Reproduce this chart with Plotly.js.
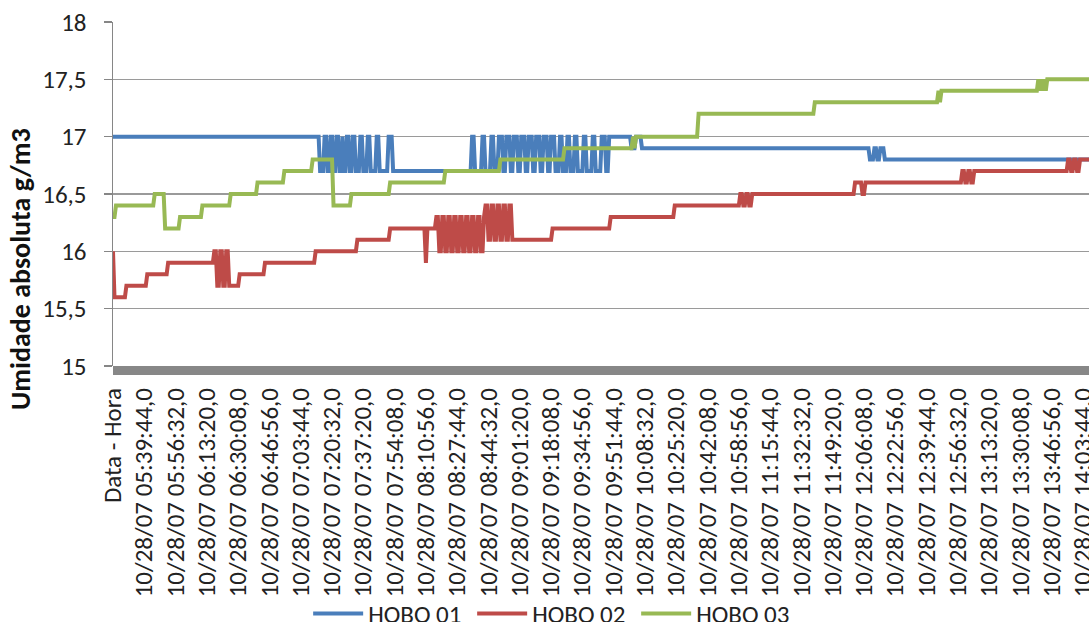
<!DOCTYPE html>
<html>
<head>
<meta charset="utf-8">
<script src="https://cdn.plot.ly/plotly-3.0.1.min.js"></script>
<style>
  html, body { margin: 0; padding: 0; background: #ffffff; width: 1089px; height: 622px; overflow: hidden; }
  #chart { width: 1089px; height: 640px; }
</style>
</head>
<body>
<div id="chart"></div>
<script>
// Category tick labels (one label every 21 readings)
const tickLabels = [
  "Data - Hora",
  "10/28/07 05:39:44,0", "10/28/07 05:56:32,0", "10/28/07 06:13:20,0", "10/28/07 06:30:08,0",
  "10/28/07 06:46:56,0", "10/28/07 07:03:44,0", "10/28/07 07:20:32,0", "10/28/07 07:37:20,0",
  "10/28/07 07:54:08,0", "10/28/07 08:10:56,0", "10/28/07 08:27:44,0", "10/28/07 08:44:32,0",
  "10/28/07 09:01:20,0", "10/28/07 09:18:08,0", "10/28/07 09:34:56,0", "10/28/07 09:51:44,0",
  "10/28/07 10:08:32,0", "10/28/07 10:25:20,0", "10/28/07 10:42:08,0", "10/28/07 10:58:56,0",
  "10/28/07 11:15:44,0", "10/28/07 11:32:32,0", "10/28/07 11:49:20,0", "10/28/07 12:06:08,0",
  "10/28/07 12:22:56,0", "10/28/07 12:39:44,0", "10/28/07 12:56:32,0", "10/28/07 13:13:20,0",
  "10/28/07 13:30:08,0", "10/28/07 13:46:56,0", "10/28/07 14:03:44,0"
];
const readingsPerLabel = 21;

const seriesNames = ["HOBO 01", "HOBO 02", "HOBO 03"];

// Readings as runs: [value g/m3, number of consecutive readings]
const hobo01Runs = [
  [17.0,139],
  [16.7,3],[17.0,2],[16.7,2],[17.0,2],[16.7,2],[17.0,2],[16.7,2],[17.0,1],[16.7,2],[17.0,2],
  [16.7,2],[17.0,2],[16.7,3],[17.0,2],[16.7,3],[17.0,2],[16.7,4],[17.0,2],[16.7,6],[17.0,3],
  [16.7,53],
  [17.0,2],[16.7,5],[17.0,2],[16.7,4],[17.0,2],[16.7,3],[17.0,3],[16.7,2],[17.0,3],[16.7,2],
  [17.0,3],[16.7,2],[17.0,3],[16.7,2],[17.0,3],[16.7,2],[17.0,3],[16.7,2],[17.0,3],[16.7,2],
  [17.0,3],[16.7,3],[17.0,2],[16.7,3],[17.0,2],[16.7,3],[17.0,2],[16.7,4],[17.0,2],[16.7,4],
  [17.0,2],[16.7,4],[17.0,3],[16.7,2],
  [17.0,15],[16.9,3],[17.0,4],
  [16.9,153],
  [16.8,3],[16.9,2],[16.8,2],[16.9,3],
  [16.8,138]
];

const hobo02Runs = [
  [16.0,1],[15.6,8],[15.7,14],[15.8,14],[15.9,31],
  [16.0,2],[15.7,2],[16.0,2],[15.7,2],[16.0,2],[15.7,2],
  [15.7,5],[15.8,17],[15.9,34],[16.0,28],[16.1,22],[16.2,24],[15.9,1],[16.2,6],
  [16.3,2],[16.0,2],[16.3,2],[16.0,2],[16.3,2],[16.0,2],[16.3,2],[16.0,2],
  [16.3,2],[16.0,2],[16.3,2],[16.0,2],[16.3,2],[16.0,2],[16.3,2],[16.0,2],[16.3,1],
  [16.4,2],[16.1,2],[16.4,2],[16.1,2],[16.4,2],[16.1,2],[16.4,2],[16.1,2],[16.4,2],
  [16.1,27],[16.2,39],[16.3,43],[16.4,44],
  [16.5,2],[16.4,2],[16.5,2],[16.4,2],
  [16.5,69],[16.6,5],[16.5,2],[16.6,65],
  [16.7,2],[16.6,2],[16.7,2],[16.6,2],[16.7,2],
  [16.7,61],
  [16.8,2],[16.7,2],[16.8,2],[16.7,2],[16.8,2],
  [16.8,5]
];

const hobo03Runs = [
  [16.3,2],[16.4,26],[16.5,7],[16.2,10],[16.3,15],[16.4,19],[16.5,18],[16.6,18],[16.7,19],
  [16.8,14],[16.4,12],[16.5,26],[16.6,37],[16.7,37],[16.8,43],[16.9,46],[17.0,1],[16.9,1],
  [17.0,42],[17.2,78],[17.3,83],[17.4,1],[17.3,1],[17.4,65],
  [17.5,1],[17.4,1],[17.5,1],[17.4,1],[17.5,1],[17.4,1],
  [17.5,29]
];

const seriesColors = ["#4A7EBB", "#BE4B48", "#98B954"];

function expand(runs) {
  const y = [];
  runs.forEach(r => { for (let k = 0; k < r[1]; k++) y.push(r[0]); });
  return y;
}

const allRuns = [hobo01Runs, hobo02Runs, hobo03Runs];
const traces = allRuns.map((runs, s) => {
  const y = expand(runs);
  const x = y.map((_, i) => i);
  return {
    type: "scatter", mode: "lines", name: seriesNames[s], x: x, y: y,
    line: { color: seriesColors[s], width: 4, shape: "linear" },
    hoverinfo: "skip"
  };
});

const tickVals = tickLabels.map((_, i) => i * readingsPerLabel);
const fontFam = "Carlito, Calibri, 'Open Sans', sans-serif";
const txt = "#222222";

const layout = {
  width: 1089, height: 640,
  margin: { l: 113, r: 0, t: 22, b: 274, pad: 0, autoexpand: false },
  paper_bgcolor: "#ffffff", plot_bgcolor: "#ffffff",
  separators: ",.",
  font: { family: fontFam, size: 25, color: txt },
  showlegend: true,
  legend: {
    orientation: "h", x: 0.452, xanchor: "center", y: -0.72, yanchor: "middle",
    font: { family: fontFam, size: 25, color: txt },
    itemwidth: 50,
    entrywidth: 99, entrywidthmode: "pixels",
    bgcolor: "rgba(0,0,0,0)"
  },
  xaxis: {
    range: [0, 655], tickmode: "array", tickvals: tickVals, ticktext: tickLabels,
    tickangle: -90, ticks: "", showgrid: false, zeroline: false,
    showline: false, automargin: false,
    ticklabelstandoff: 16, ticklabeloverflow: "allow",
    tickfont: { family: fontFam, size: 25, color: txt },
    fixedrange: true
  },
  yaxis: {
    range: [15, 18], dtick: 0.5, tick0: 15, automargin: false,
    showgrid: true, gridcolor: "#9a9a9a", gridwidth: 1.5,
    zeroline: false, showline: true, linecolor: "#868686", linewidth: 1.5,
    ticks: "outside", ticklen: 8, tickcolor: "#868686", tickwidth: 1.5,
    ticklabelstandoff: 12,
    tickfont: { family: fontFam, size: 25, color: txt },
    fixedrange: true
  },
  shapes: [{
    type: "rect", layer: "above",
    xref: "paper", x0: 0, x1: 1.02,
    yref: "paper", y0: -9 / 344, y1: 0,
    fillcolor: "#878787", line: { width: 0 }
  }],
  annotations: [{
    text: "<b>Umidade absoluta g/m3</b>", textangle: -90,
    xref: "paper", yref: "paper", x: (20 - 113) / 976, y: (366 - 269) / 344,
    xanchor: "center", yanchor: "middle", showarrow: false,
    font: { family: fontFam, size: 28, color: "#111111" }
  }]
};

Plotly.newPlot("chart", traces, layout, { displayModeBar: false, staticPlot: true });
</script>
</body>
</html>
